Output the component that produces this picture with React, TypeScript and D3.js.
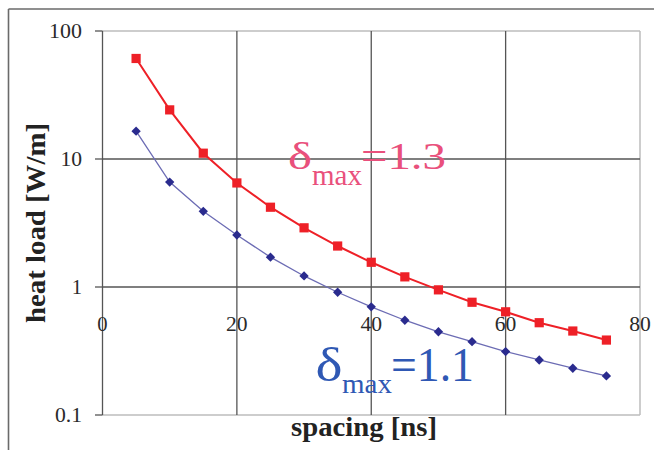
import React from "react";
import * as d3 from "d3";

const spacing = [5, 10, 15, 20, 25, 30, 35, 40, 45, 50, 55, 60, 65, 70, 75];
const load13 = [61, 24.2, 11.1, 6.5, 4.2, 2.9, 2.09, 1.56, 1.2, 0.95, 0.76, 0.64, 0.526, 0.453, 0.385];
const load11 = [16.5, 6.6, 3.9, 2.55, 1.71, 1.22, 0.91, 0.7, 0.55, 0.447, 0.374, 0.313, 0.269, 0.232, 0.202];
const xTicks = [0, 20, 40, 60, 80];
const yTicks = [0.1, 1, 10, 100];
const yTickLabels = ["0.1", "1", "10", "100"];

const W = 654;
const H = 450;
const L = 102.5, R = 640, T = 31, B = 415;

const charW = (s: string) => s.split("").reduce((a, c) => a + (c === "." ? 5.5 : 11.3), 0) - 1;

export default function App() {
  const x = d3.scaleLinear().domain([0, 80]).range([L, R]);
  const y = d3.scaleLog().domain([0.1, 100]).range([B, T]);
  const line = d3
    .line<[number, number]>()
    .x((d) => x(d[0]))
    .y((d) => y(d[1]));
  const red = spacing.map((s, i) => [s, load13[i]] as [number, number]);
  const blue = spacing.map((s, i) => [s, load11[i]] as [number, number]);
  const dark = "#555";
  const light = "#bdbdbd";
  const serif = "Tinos, 'Liberation Serif', 'Nimbus Roman', 'Nimbus Roman No9 L', FreeSerif, 'Times New Roman', Times, serif";
  const pink = "#e9507c";
  const blueTxt = "#2f58b4";

  return (
    <svg width={W} height={H} style={{ position: "absolute", left: 0, top: 0, background: "#fff" }}>
      <rect x={0} y={0} width={W} height={H} fill="#fff" />
      {/* outer frame */}
      <line x1={8.5} y1={9} x2={W} y2={9} stroke="#6a6a6a" strokeWidth={1.6} />
      <line x1={8.5} y1={9} x2={8.5} y2={H} stroke="#6a6a6a" strokeWidth={1.6} />

      {/* plot border light */}
      <line x1={L} y1={y(100)} x2={R} y2={y(100)} stroke={light} strokeWidth={1.5} />
      <line x1={L} y1={y(0.1)} x2={R} y2={y(0.1)} stroke={light} strokeWidth={1.5} />
      <line x1={R} y1={T} x2={R} y2={B} stroke={light} strokeWidth={1.5} />

      {/* grid horizontal */}
      {[1, 10].map((v) => (
        <line key={"h" + v} x1={L} y1={y(v)} x2={R} y2={y(v)} stroke={dark} strokeWidth={1.3} />
      ))}
      {/* grid vertical */}
      {[20, 40, 60].map((v) => (
        <line key={"v" + v} x1={x(v)} y1={T} x2={x(v)} y2={B} stroke={dark} strokeWidth={1.3} />
      ))}
      {/* y axis */}
      <line x1={L} y1={T} x2={L} y2={B} stroke={dark} strokeWidth={1.3} />
      {yTicks.map((v) => (
        <line key={"t" + v} x1={L - 7.5} y1={y(v)} x2={L} y2={y(v)} stroke={dark} strokeWidth={1.3} />
      ))}

      {/* y tick labels */}
      {yTicks.map((v, i) => (
        <text
          key={"yl" + v}
          x={82 - charW(yTickLabels[i])}
          y={y(v) + 7}
          fontFamily={serif}
          fontSize={20}
          fill="#2a2a2a"
          textLength={charW(yTickLabels[i])}
          lengthAdjust="spacingAndGlyphs"
        >
          {yTickLabels[i]}
        </text>
      ))}
      {/* x tick labels */}
      {xTicks.map((v) => (
        <text
          key={"xl" + v}
          x={x(v) - charW(String(v)) / 2}
          y={331}
          fontFamily={serif}
          fontSize={20}
          fill="#2a2a2a"
          textLength={charW(String(v))}
          lengthAdjust="spacingAndGlyphs"
        >
          {v}
        </text>
      ))}

      {/* series */}
      <path d={line(blue) || ""} fill="none" stroke="#6c6cb4" strokeWidth={1.3} />
      <path d={line(red) || ""} fill="none" stroke="#ee2027" strokeWidth={2} />
      {blue.map((d, i) => (
        <rect
          key={"b" + i}
          x={-3.3}
          y={-3.3}
          width={6.6}
          height={6.6}
          fill="#2a2b8e"
          transform={`translate(${x(d[0])},${y(d[1])}) rotate(45)`}
        />
      ))}
      {red.map((d, i) => (
        <rect key={"r" + i} x={x(d[0]) - 4.6} y={y(d[1]) - 4.6} width={9.2} height={9.2} fill="#ee2027" />
      ))}

      {/* annotations */}
      <g fontFamily={serif} fill={pink}>
        <text x={288} y={169} fontSize={38} textLength={24} lengthAdjust="spacingAndGlyphs">δ</text>
        <text x={312} y={185} fontSize={30} textLength={50} lengthAdjust="spacingAndGlyphs">max</text>
        <text x={361} y={169} fontSize={38} textLength={85} lengthAdjust="spacingAndGlyphs">=1.3</text>
      </g>
      <g fontFamily={serif} fill={blueTxt}>
        <text x={315.5} y={380.5} fontSize={48} textLength={27} lengthAdjust="spacingAndGlyphs">δ</text>
        <text x={342} y={392.7} fontSize={28} textLength={50} lengthAdjust="spacingAndGlyphs">max</text>
        <text x={391} y={380.5} fontSize={48} textLength={83} lengthAdjust="spacingAndGlyphs">=1.1</text>
      </g>

      {/* axis titles */}
      <text
        x={364 - 73}
        y={436}
        fontFamily={serif}
        fontWeight="bold"
        fontSize={27}
        fill="#222"
        textLength={146}
        lengthAdjust="spacingAndGlyphs"
      >
        spacing [ns]
      </text>
      <text
        transform={`translate(45,323) rotate(-90)`}
        fontFamily={serif}
        fontWeight="bold"
        fontSize={27}
        fill="#222"
        textLength={200}
        lengthAdjust="spacingAndGlyphs"
      >
        heat load [W/m]
      </text>
    </svg>
  );
}
